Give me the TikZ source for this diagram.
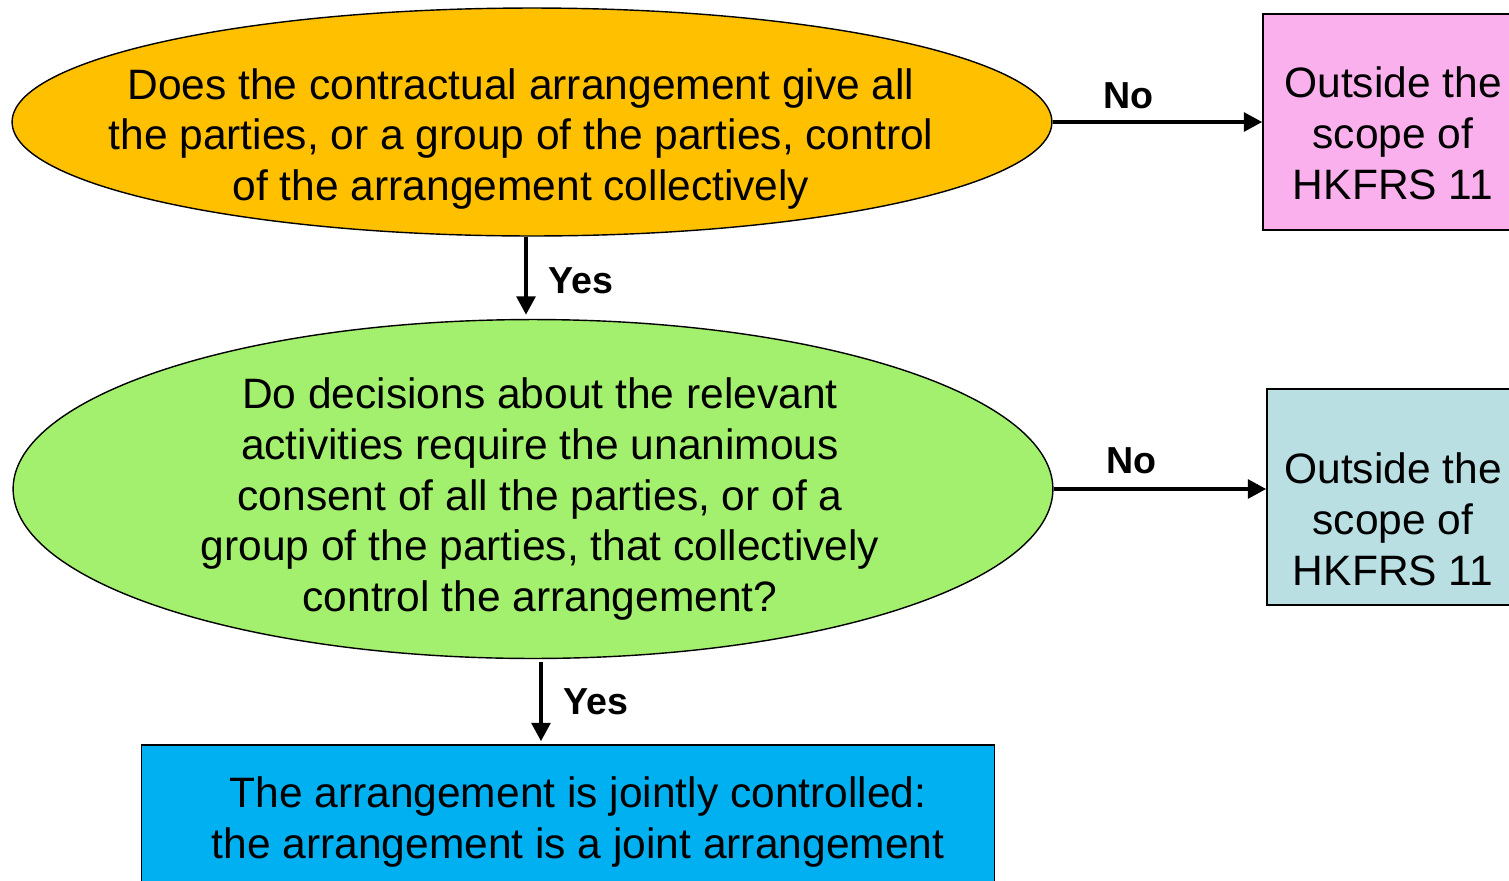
\documentclass[tikz,border=0pt]{standalone}
\usepackage{fontspec}
\setmainfont{Liberation Sans}
\usepackage{tikz}
\usetikzlibrary{arrows.meta}
\usetikzlibrary{shapes}
\usetikzlibrary{positioning}

\definecolor{qorange}{HTML}{FFC000}
\definecolor{qgreen}{HTML}{A3F06E}
\definecolor{outpink}{HTML}{F9B0EC}
\definecolor{outcyan}{HTML}{B9DFE3}
\definecolor{jointblue}{HTML}{00B0F0}

\tikzset{
    question/.style={ellipse,draw=black,line width=0.8pt,inner sep=0pt,minimum width=20.8cm},
    outbox/.style={rectangle,draw=black,line width=0.8pt,inner sep=0pt,minimum width=5.16cm,minimum height=4.32cm},
    boxtext/.style={align=center,font=\fontsize{24.2}{29}\selectfont,inner sep=0pt},
    flow/.style={draw=black,line width=2.5pt,-{Triangle[length=10.5pt,width=10.5pt]}},
    answer/.style={font=\bfseries\fontsize{21.4}{25}\selectfont}
}

\begin{document}
\begin{tikzpicture}[x=0.02cm,y=-0.02cm]
    \useasboundingbox (0,0) rectangle (1509,880);
    % shapes
    \node[question,fill=qorange,minimum height=4.56cm] (q1) at (532,122) {};
    \node[question,fill=qgreen,minimum height=6.78cm] (q2) at (533,489) {};
    \node[outbox,fill=outpink] (out1) at (1392,122) {};
    \node[outbox,fill=outcyan,minimum width=5.08cm] (out2) at (1394,497) {};
    \node[outbox,fill=jointblue,minimum width=17.06cm,minimum height=2.96cm] (joint) at (568,819) {};
    % texts
    \node[boxtext] (q1text) at (521,139) {Does the contractual arrangement give all\\the parties, or a group of the parties, control\\of the arrangement collectively};
    \node[boxtext] (q2text) at (540,499) {Do decisions about the relevant\\activities require the unanimous\\consent of all the parties, or of a\\group of the parties, that collectively\\control the arrangement?};
    \node[boxtext] (out1text) at (1393,133) {Outside the\\scope of\\HKFRS 11};
    \node[boxtext] (out2text) at (1393,519) {Outside the\\scope of\\HKFRS 11};
    \node[boxtext] (jointtext) at (578,822) {The arrangement is jointly controlled:\\the arrangement is a joint arrangement};
    % connectors
    \draw[flow] (q1.east) -- node[answer,pos=0.36,above=3pt] (no1) {No} (out1.west);
    \draw[flow] (q2.east) -- node[answer,pos=0.365,above=4pt] (no2) {No} (q2.east -| out2.west);
    \draw[flow] ([xshift=-0.12cm]q1.south) -- node[answer,pos=0.56,right=8pt] (yes1) {Yes} ([xshift=-0.12cm,yshift=0.08cm]q1.south |- q2.north);
    \draw[flow] ([xshift=0.16cm,yshift=-0.06cm]q2.south) -- node[answer,pos=0.5,right=8pt] (yes2) {Yes} ([xshift=0.16cm,yshift=0.06cm]q2.south |- joint.north);
\end{tikzpicture}
\end{document}
